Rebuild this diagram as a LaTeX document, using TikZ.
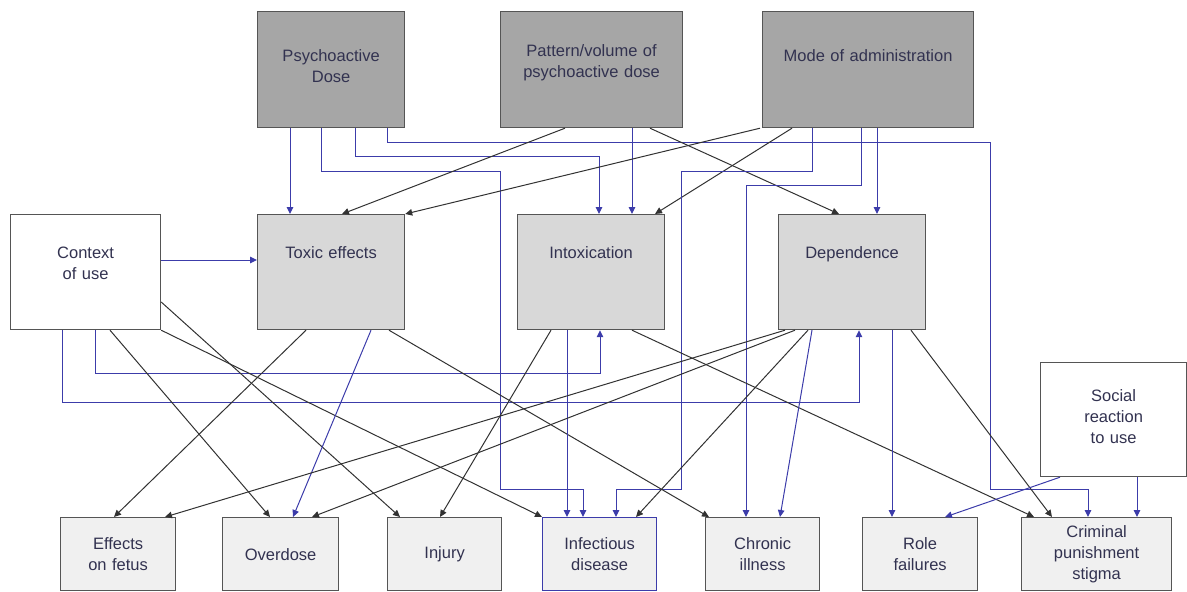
\documentclass[tikz,border=0pt]{standalone}
\usepackage{fontspec}
\setmainfont{Liberation Sans}
\usepackage{xcolor}
\usepackage{tikz}
\usetikzlibrary{arrows.meta}
\tikzset{>={Triangle[length=7pt,width=6.5pt]}}
\definecolor{linkblue}{RGB}{60,60,170}
\definecolor{linkgray}{RGB}{50,50,50}
\definecolor{boxgray}{RGB}{85,85,85}
\definecolor{darkfill}{RGB}{166,166,166}
\definecolor{midfill}{RGB}{216,216,216}
\definecolor{lowfill}{RGB}{240,240,240}
\definecolor{txt}{RGB}{50,50,80}

\begin{document}
\begin{tikzpicture}[x=1pt, y=-1pt,
                    box/.style={draw=boxgray, line width=1.2pt, inner sep=0pt, align=center,
                                text=txt, anchor=north west, font=\fontsize{16.5}{21}\selectfont},
                    darkbox/.style={box, fill=darkfill, text height=50pt, text depth=66pt},
                    midbox/.style={box, fill=midfill, text height=44pt, text depth=71pt},
                    plainbox/.style={box, fill=white},
                    lowbox/.style={box, fill=lowfill, minimum height=73pt},
                    bl/.style={->, draw=linkblue, line width=1pt},
                    bk/.style={->, draw=linkgray, line width=1pt},
                   ]

\useasboundingbox (0,0) rectangle (1187,592);

% causes
\node[darkbox, text width=147pt] (dose) at (257,11) {Psychoactive\\Dose};
\node[darkbox, text width=182pt, text height=45pt, text depth=71pt] (pat) at (500,11) {Pattern/volume of\\psychoactive dose};
\node[darkbox, text width=211pt] (mode) at (762,11) {Mode of administration};

% mechanisms
\node[plainbox, text width=150pt, text height=44pt, text depth=71pt] (ctx) at (10,214) {Context\\of use};
\node[midbox, text width=147pt] (tox) at (257,214) {Toxic effects};
\node[midbox, text width=147pt] (intox) at (517,214) {Intoxication};
\node[midbox, text width=147pt] (dep) at (778,214) {Dependence};
\node[plainbox, text width=146pt, text height=39pt, text depth=75pt] (soc) at (1040,362) {Social\\reaction\\to use};

% outcomes
\node[lowbox, text width=115pt] (fetus) at (60,517) {Effects\\on fetus};
\node[lowbox, text width=116pt] (over) at (222,517) {Overdose};
\node[lowbox, text width=114pt] (injury) at (387,517) {Injury};
\node[lowbox, text width=114pt, draw=linkblue] (infect) at (542,517) {Infectious\\disease};
\node[lowbox, text width=114pt] (chron) at (705,517) {Chronic\\illness};
\node[lowbox, text width=115pt] (role) at (862,517) {Role\\failures};
\node[lowbox, text width=150pt] (crim) at (1021,517) {Criminal\\punishment\\stigma};

% from the dose
\draw[bl] (290,0 |- dose.south) -- (290,0 |- tox.north);
\draw[bl] (321,0 |- dose.south) |- (500,171) |- (583,489) -- (583,0 |- infect.north);
\draw[bl] (355,0 |- dose.south) |- (599,156) -- (599,0 |- intox.north);
\draw[bl] (387,0 |- dose.south) |- (990,142) |- (1088,489) -- (1088,0 |- crim.north);

% from the pattern
\draw[bk] (565,0 |- pat.south) -- (342,0 |- tox.north);
\draw[bl] (632,0 |- pat.south) -- (632,0 |- intox.north);
\draw[bk] (650,0 |- pat.south) -- (839,0 |- dep.north);

% from the mode
\draw[bk] (760,0 |- mode.south) -- (tox.north east);
\draw[bk] (792,0 |- mode.south) -- (655,0 |- intox.north);
\draw[bl] (812,0 |- mode.south) |- (681,171) |- (616,489) -- (616,0 |- infect.north);
\draw[bl] (861,0 |- mode.south) |- (746,185) -- (746,0 |- chron.north);
\draw[bl] (877,0 |- mode.south) -- (877,0 |- dep.north);

% from the context
\draw[bl] (ctx.east |- 0,260) -- (tox.west |- 0,260);
\draw[bl] (95,0 |- ctx.south) |- (600,373) -- (600,0 |- intox.south);
\draw[bl] (62,0 |- ctx.south) |- (859,402) -- (859,0 |- dep.south);
\draw[bk] (110,0 |- ctx.south) -- (270,0 |- over.north);
\draw[bk] (ctx.east |- 0,302) -- (400,0 |- injury.north);
\draw[bk] (ctx.south east) -- (infect.north west);

% from the toxic effects
\draw[bk] (306,0 |- tox.south) -- (114,0 |- fetus.north);
\draw[bl] (371,0 |- tox.south) -- (293,0 |- over.north);
\draw[bk] (389,0 |- tox.south) -- (709,0 |- chron.north);

% from the intoxication
\draw[bk] (551,0 |- intox.south) -- (440,0 |- injury.north);
\draw[bl] (567,0 |- intox.south) -- (567,0 |- infect.north);
\draw[bk] (632,0 |- intox.south) -- (1034,0 |- crim.north);

% from the dependence
\draw[bk] (785,0 |- dep.south) -- (165,0 |- fetus.north);
\draw[bk] (795,0 |- dep.south) -- (312,0 |- over.north);
\draw[bk] (808,0 |- dep.south) -- (636,0 |- infect.north);
\draw[bl] (812,0 |- dep.south) -- (780,0 |- chron.north);
\draw[bl] (892,0 |- dep.south) -- (892,0 |- role.north);
\draw[bk] (911,0 |- dep.south) -- (1052,0 |- crim.north);

% from the social reaction
\draw[bl] (1060,0 |- soc.south) -- (945,0 |- role.north);
\draw[bl] (1137,0 |- soc.south) -- (1137,0 |- crim.north);

\end{tikzpicture}
\end{document}
